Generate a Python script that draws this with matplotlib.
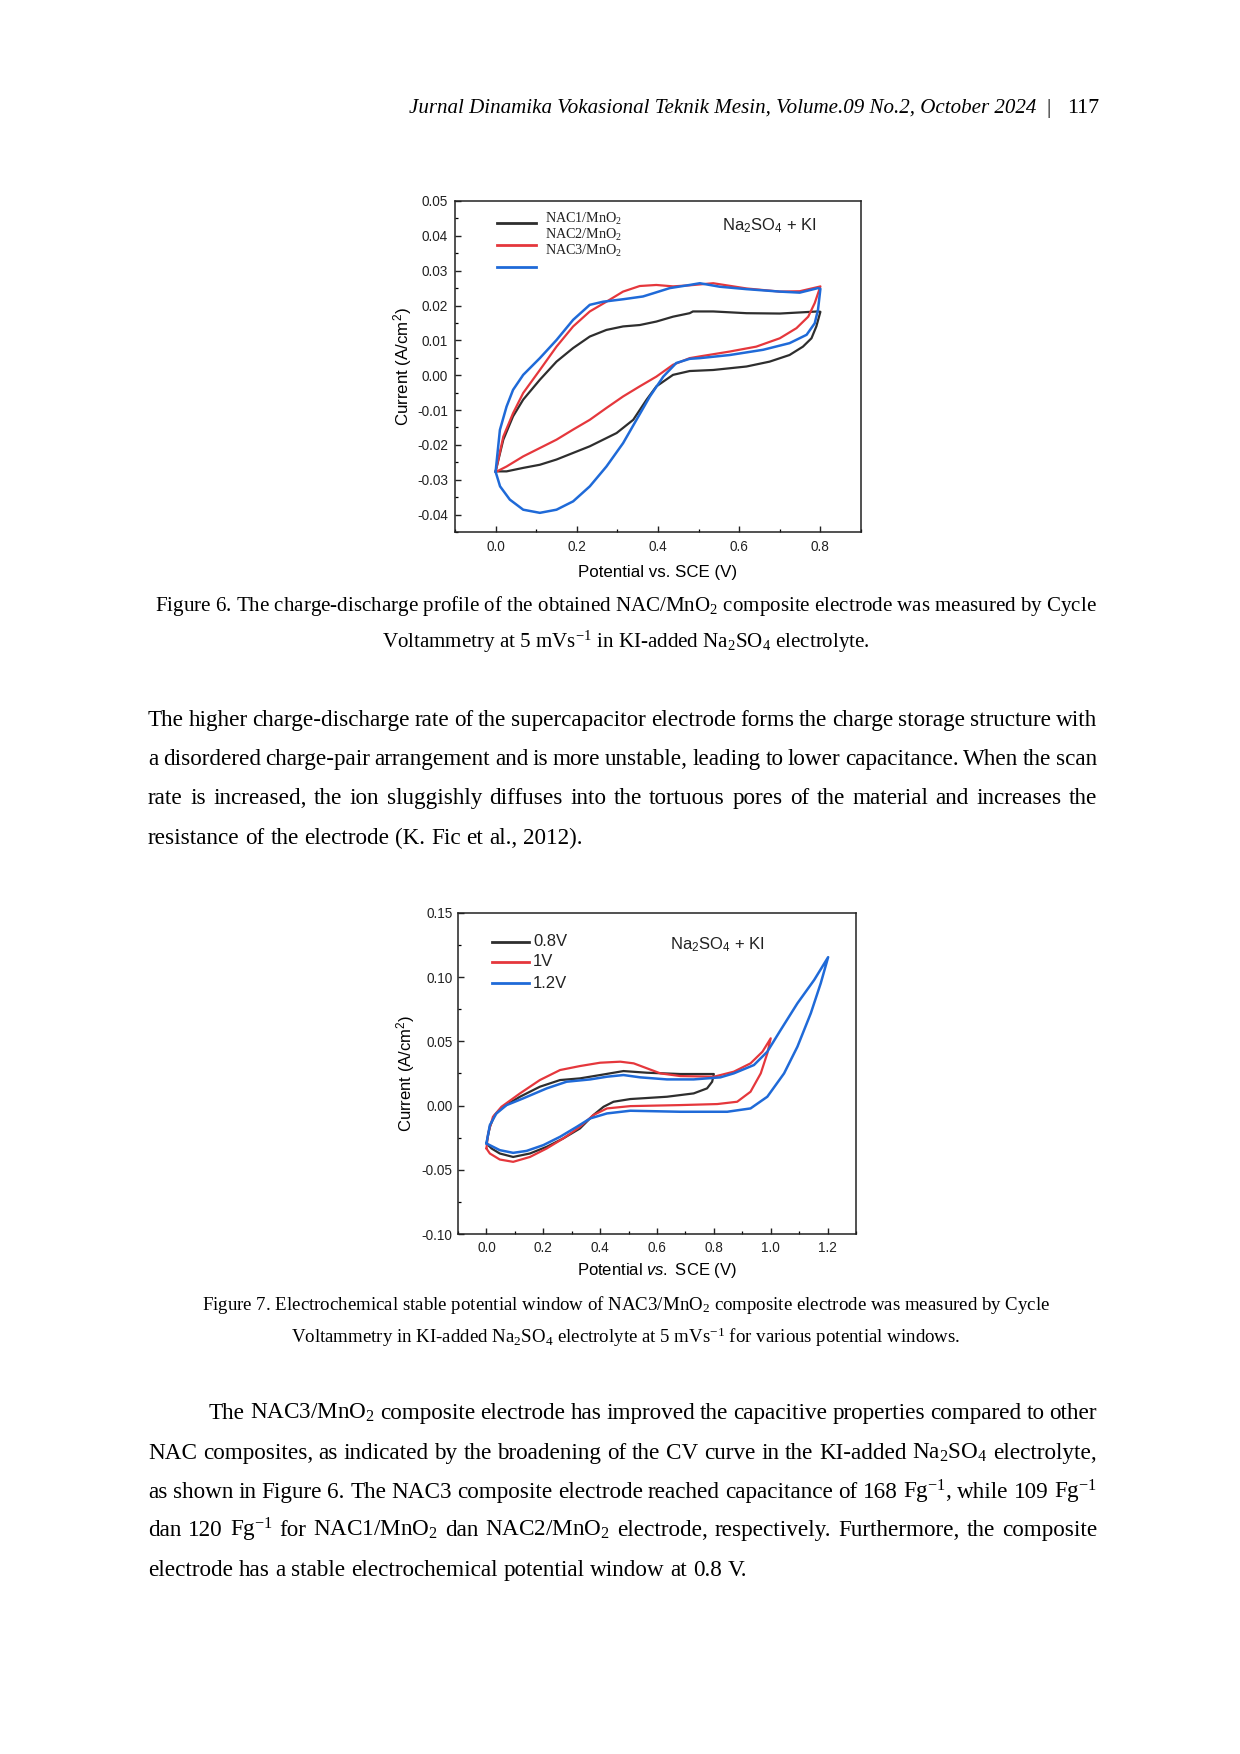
import matplotlib
matplotlib.use('Agg')
import matplotlib.pyplot as plt
from matplotlib.ticker import MultipleLocator, FormatStrFormatter
from matplotlib.lines import Line2D

plt.rcParams['mathtext.fontset'] = 'custom'
plt.rcParams['mathtext.default'] = 'regular'
plt.rcParams['mathtext.rm'] = 'Liberation Sans'
plt.rcParams['mathtext.it'] = 'Liberation Sans:italic'
plt.rcParams['axes.unicode_minus'] = False

# ---------------- data: Figure 6 (CV at 5 mV/s, three composites) ----------------
nac1_v = [0.0, 0.019, 0.043, 0.068, 0.109, 0.150, 0.191, 0.232, 0.273, 0.314, 0.355, 0.396, 0.437, 0.478, 0.486, 0.536, 0.618, 0.70, 0.794, 0.80,
          0.79, 0.778, 0.757, 0.724, 0.675, 0.618, 0.536, 0.478, 0.437, 0.396, 0.372, 0.339, 0.298, 0.232, 0.191, 0.150, 0.109, 0.068, 0.027, 0.0]
nac1_i = [-0.0276, -0.0185, -0.0118, -0.0070, -0.0013, 0.0039, 0.0078, 0.0111, 0.0130, 0.0140, 0.0144, 0.0154, 0.0168, 0.0178, 0.0183, 0.0183, 0.0178, 0.0177, 0.0183, 0.0182,
          0.0140, 0.0106, 0.0082, 0.0058, 0.0039, 0.0025, 0.0015, 0.0012, 0.0001, -0.0032, -0.0070, -0.0128, -0.0166, -0.0204, -0.0223, -0.0242, -0.0257, -0.0266, -0.0276, -0.0276]

nac2_v = [0.0, 0.019, 0.043, 0.068, 0.109, 0.150, 0.191, 0.232, 0.273, 0.314, 0.355, 0.396, 0.437, 0.478, 0.536, 0.618, 0.70, 0.749, 0.797, 0.80,
          0.786, 0.770, 0.741, 0.70, 0.642, 0.577, 0.503, 0.478, 0.437, 0.396, 0.355, 0.314, 0.273, 0.232, 0.191, 0.150, 0.109, 0.068, 0.027, 0.0]
nac2_i = [-0.0278, -0.0176, -0.0109, -0.0051, 0.0015, 0.0082, 0.0140, 0.0183, 0.0211, 0.0240, 0.0256, 0.0259, 0.0255, 0.0258, 0.0264, 0.0249, 0.0240, 0.0241, 0.0254, 0.0255,
          0.0207, 0.0168, 0.0135, 0.0106, 0.0082, 0.0068, 0.0054, 0.0049, 0.0030, -0.0004, -0.0032, -0.0061, -0.0094, -0.0128, -0.0156, -0.0185, -0.0209, -0.0233, -0.0262, -0.0278]

nac3_v = [0.0, 0.0106, 0.027, 0.043, 0.068, 0.109, 0.150, 0.191, 0.232, 0.265, 0.314, 0.363, 0.388, 0.429, 0.478, 0.503, 0.552, 0.618, 0.70, 0.749, 0.794, 0.80,
          0.794, 0.786, 0.766, 0.724, 0.659, 0.577, 0.503, 0.478, 0.445, 0.413, 0.380, 0.347, 0.314, 0.273, 0.232, 0.191, 0.150, 0.109, 0.068, 0.035, 0.011, 0.0]
nac3_i = [-0.0277, -0.0157, -0.0090, -0.0042, 0.0001, 0.0049, 0.0101, 0.0159, 0.0202, 0.0211, 0.0218, 0.0226, 0.0235, 0.0250, 0.0259, 0.0264, 0.0254, 0.0247, 0.0240, 0.0237, 0.0250, 0.0248,
          0.0187, 0.0149, 0.0116, 0.0092, 0.0073, 0.0058, 0.0049, 0.0047, 0.0035, -0.0004, -0.0061, -0.0128, -0.0195, -0.0262, -0.0319, -0.0362, -0.0386, -0.0395, -0.0386, -0.0357, -0.0319, -0.0277]

fig6_labels = ['NAC1/MnO$_2$', 'NAC2/MnO$_2$', 'NAC3/MnO$_2$']

# ---------------- data: Figure 7 (potential windows) ----------------
w08_v = [0.0, 0.012, 0.029, 0.059, 0.118, 0.188, 0.259, 0.329, 0.40, 0.482, 0.565, 0.682, 0.80,
         0.794, 0.776, 0.729, 0.635, 0.506, 0.447, 0.412, 0.376, 0.329, 0.27, 0.212, 0.153, 0.094, 0.047, 0.018, 0.0]
w08_i = [-0.0295, -0.0165, -0.0074, -0.0009, 0.0069, 0.0147, 0.0199, 0.0212, 0.0238, 0.0269, 0.0256, 0.0246, 0.0246,
         0.0186, 0.0134, 0.0095, 0.0069, 0.0051, 0.0030, -0.0009, -0.0074, -0.0178, -0.0256, -0.0321, -0.0373, -0.0400, -0.0373, -0.0334, -0.0295]

w10_v = [0.0, 0.006, 0.023, 0.053, 0.118, 0.188, 0.259, 0.329, 0.40, 0.471, 0.518, 0.565, 0.612, 0.682, 0.80, 0.870, 0.929, 0.971, 1.0,
         0.988, 0.965, 0.929, 0.882, 0.812, 0.682, 0.506, 0.424, 0.376, 0.329, 0.27, 0.212, 0.153, 0.094, 0.047, 0.012, 0.0]
w10_i = [-0.0334, -0.0217, -0.0087, -0.0009, 0.0095, 0.0199, 0.0277, 0.0308, 0.0334, 0.0342, 0.0329, 0.0290, 0.0251, 0.0230, 0.0225, 0.0264, 0.0329, 0.0420, 0.0524,
         0.0407, 0.0251, 0.0108, 0.0030, 0.0012, 0.0004, -0.0004, -0.0022, -0.0074, -0.0165, -0.0256, -0.0334, -0.0400, -0.0438, -0.0420, -0.0373, -0.0334]

w12_v = [0.0, 0.012, 0.035, 0.071, 0.129, 0.212, 0.282, 0.365, 0.424, 0.482, 0.541, 0.635, 0.729, 0.823, 0.870, 0.941, 0.988, 1.035, 1.094, 1.153, 1.202,
         1.176, 1.141, 1.094, 1.047, 0.988, 0.929, 0.847, 0.682, 0.506, 0.424, 0.365, 0.318, 0.259, 0.20, 0.141, 0.094, 0.047, 0.0]
w12_i = [-0.0295, -0.0152, -0.0061, 0.0004, 0.0056, 0.0134, 0.0186, 0.0204, 0.0225, 0.0238, 0.0220, 0.0204, 0.0204, 0.0220, 0.0251, 0.0316, 0.0420, 0.0589, 0.0797, 0.0979, 0.1156,
         0.0953, 0.0719, 0.0459, 0.0251, 0.0069, -0.0022, -0.0048, -0.0048, -0.0040, -0.0061, -0.0100, -0.0165, -0.0243, -0.0308, -0.0353, -0.0368, -0.0347, -0.0295]

fig7_labels = ['0.8V', '1V', '1.2V']

C_BLACK = '#2e2e2e'
C_RED = '#e5373c'
C_BLUE = '#1f6ad8'

# ---------------- figure ----------------
W, H = 1240, 1754
fig = plt.figure(figsize=(W / 100, H / 100), dpi=100)
fig.patch.set_facecolor('white')
R = fig.canvas.get_renderer()


def fx(px):
    return px / W


def fy(py):
    return 1 - py / H


def width_of(t):
    return t.get_window_extent(R).width


def fit(s, target, **kw):
    t = fig.text(0, 0, s, fontsize=10, **kw)
    w = width_of(t)
    t.remove()
    return 10 * target / w


SERIF = 'Liberation Serif'
SANS = 'Liberation Sans'


def space_width(size, family):
    a = fig.text(0, 0, 'x x', fontsize=size, family=family)
    b = fig.text(0, 0, 'xx', fontsize=size, family=family)
    w = width_of(a) - width_of(b)
    a.remove(); b.remove()
    return w


def text_line(line, x0, x1, ybase, size, justify=True, family=SERIF):
    words = line.split(' ')
    ts = [fig.text(0, fy(ybase), w, fontsize=size, family=family, va='baseline', ha='left') for w in words]
    ws = [width_of(t) for t in ts]
    if justify and len(words) > 1:
        gap = (x1 - x0 - sum(ws)) / (len(words) - 1)
    else:
        gap = space_width(size, family)
    x = x0
    for t, w in zip(ts, ws):
        t.set_x(fx(x))
        x += w + gap


# ---------------- header ----------------
hdr = 'Jurnal Dinamika Vokasional Teknik Mesin, Volume.09 No.2, October 2024'
hs = fit(hdr, 629, family=SERIF, style='italic')
fig.text(fx(1036), fy(113), hdr, fontsize=hs, family=SERIF, style='italic', ha='right', va='baseline')
fig.text(fx(1049), fy(113), '|', fontsize=hs, family=SERIF, ha='center', va='baseline')
fig.text(fx(1099), fy(113), '117', fontsize=hs * 1.05, family=SERIF, ha='right', va='baseline')


# ---------------- axes styling ----------------
def style_axes(ax, xlim, ylim, xmaj, xmin, ymaj, ymin, xfmt, yfmt, tsize, xpad, ypad):
    ax.set_xlim(*xlim)
    ax.set_ylim(*ylim)
    ax.xaxis.set_major_locator(MultipleLocator(xmaj))
    ax.xaxis.set_minor_locator(MultipleLocator(xmin))
    ax.yaxis.set_major_locator(MultipleLocator(ymaj))
    ax.yaxis.set_minor_locator(MultipleLocator(ymin))
    ax.xaxis.set_major_formatter(FormatStrFormatter(xfmt))
    ax.yaxis.set_major_formatter(FormatStrFormatter(yfmt))
    ax.tick_params(which='major', direction='in', length=4, width=1.0, labelsize=tsize, colors='#222222')
    ax.tick_params(which='minor', direction='in', length=2, width=0.9)
    ax.tick_params(axis='x', which='major', pad=xpad)
    ax.tick_params(axis='y', which='major', pad=ypad)
    ax.tick_params(top=False, right=False, which='both')
    for lab in ax.get_xticklabels() + ax.get_yticklabels():
        lab.set_family(SANS)
    for s in ax.spines.values():
        s.set_linewidth(1.1)
        s.set_color('#222222')


LINE_KW = dict(solid_joinstyle='round', solid_capstyle='round')

# ---------------- Figure 6 ----------------
ax6 = fig.add_axes([fx(455), fy(532), (861 - 455) / W, (532 - 201) / H])
ax6.plot(nac1_v, nac1_i, color=C_BLACK, lw=1.6, **LINE_KW)
ax6.plot(nac2_v, nac2_i, color=C_RED, lw=1.6, **LINE_KW)
ax6.plot(nac3_v, nac3_i, color=C_BLUE, lw=1.8, **LINE_KW)
style_axes(ax6, (-0.1, 0.9), (-0.045, 0.05), 0.2, 0.1, 0.01, 0.005, '%.1f', '%.2f', 9.8, 6, 5)
xt = [v for v in ax6.get_xticks() if -0.01 < v < 0.81]
ax6.set_xticks(xt)
ax6.set_xlabel('Potential vs. SCE (V)', family=SANS, fontsize=12.2, va='center')
ax6.xaxis.set_label_coords(0.5, -40 / 331)
ax6.set_ylabel('Current (A/cm$^2$)', family=SANS, fontsize=12.2, va='center')
ax6.yaxis.set_label_coords(-52 / 406, 0.5)

for py_line, py_text, col, lab in zip([223, 245, 267], [219, 235, 251], [C_BLACK, C_RED, C_BLUE], fig6_labels):
    fig.add_artist(Line2D([fx(497), fx(536)], [fy(py_line), fy(py_line)], color=col, lw=2.0))
    fig.text(fx(545), fy(py_text), lab, family=SERIF, fontsize=10.2, va='center', ha='left', color='#222222')
fig.text(fx(769), fy(226), 'Na$_2$SO$_4$ + KI', family=SANS, fontsize=12, ha='center', va='center', color='#222222')

# ---------------- Figure 7 ----------------
ax7 = fig.add_axes([fx(458), fy(1234), (856 - 458) / W, (1234 - 913) / H])
ax7.plot(w08_v, w08_i, color=C_BLACK, lw=1.6, **LINE_KW)
ax7.plot(w10_v, w10_i, color=C_RED, lw=1.6, **LINE_KW)
ax7.plot(w12_v, w12_i, color=C_BLUE, lw=1.8, **LINE_KW)
style_axes(ax7, (-0.1, 1.3), (-0.10, 0.15), 0.2, 0.1, 0.05, 0.025, '%.1f', '%.2f', 9.8, 5, 4)
xt = [v for v in ax7.get_xticks() if -0.01 < v < 1.21]
ax7.set_xticks(xt)
ax7.set_xlabel(r'Potential $\mathit{vs.}$ SCE (V)', family=SANS, fontsize=12.0, va='center')
ax7.xaxis.set_label_coords(0.5, -37 / 321)
ax7.set_ylabel('Current (A/cm$^2$)', family=SANS, fontsize=12.0, va='center')
ax7.yaxis.set_label_coords(-52 / 398, 0.5)

for py, col, lab in zip([942, 962, 983], [C_BLACK, C_RED, C_BLUE], fig7_labels):
    fig.add_artist(Line2D([fx(492), fx(529)], [fy(py), fy(py)], color=col, lw=2.0))
    fig.text(fx(533), fy(py), lab, family=SANS, fontsize=12, va='center', ha='left', color='#222222')
fig.text(fx(717), fy(945), 'Na$_2$SO$_4$ + KI', family=SANS, fontsize=12, ha='center', va='center', color='#222222')

# ---------------- captions ----------------
cap6 = ['Figure 6. The charge-discharge profile of the obtained NAC/MnO$_2$ composite electrode was measured by Cycle',
        'Voltammetry at 5 mVs$^{-1}$ in KI-added Na$_2$SO$_4$ electrolyte.']
cs6 = fit(cap6[0], 940, family=SERIF)
for s, yc in zip(cap6, [605, 642]):
    fig.text(fx(626), fy(yc + 6), s, fontsize=cs6, family=SERIF, ha='center', va='baseline')

cap7 = ['Figure 7. Electrochemical stable potential window of NAC3/MnO$_2$ composite electrode was measured by Cycle',
        'Voltammetry in KI-added Na$_2$SO$_4$ electrolyte at 5 mVs$^{-1}$ for various potential windows.']
cs7 = fit(cap7[0], 848, family=SERIF)
for s, yc in zip(cap7, [1305, 1338]):
    fig.text(fx(626), fy(yc + 5), s, fontsize=cs7, family=SERIF, ha='center', va='baseline')

# ---------------- body paragraphs ----------------
para1 = ['The higher charge-discharge rate of the supercapacitor electrode forms the charge storage structure with',
         'a disordered charge-pair arrangement and is more unstable, leading to lower capacitance. When the scan',
         'rate is increased, the ion sluggishly diffuses into the tortuous pores of the material and increases the',
         'resistance of the electrode (K. Fic et al., 2012).']
para2 = ['The NAC3/MnO$_2$ composite electrode has improved the capacitive properties compared to other',
         'NAC composites, as indicated by the broadening of the CV curve in the KI-added Na$_2$SO$_4$ electrolyte,',
         'as shown in Figure 6. The NAC3 composite electrode reached capacitance of 168 Fg$^{-1}$, while 109 Fg$^{-1}$',
         'dan 120 Fg$^{-1}$ for NAC1/MnO$_2$ dan NAC2/MnO$_2$ electrode, respectively. Furthermore, the composite',
         'electrode has a stable electrochemical potential window at 0.8 V.']

bs = 0.5 * (fit(para1[-1], 434, family=SERIF) + fit(para2[-1], 598, family=SERIF))

XL, XR = 148, 1097
for i, (s, yc) in enumerate(zip(para1, [720, 759, 798, 838])):
    text_line(s, XL, XR, yc + 6, bs, justify=(i < len(para1) - 1))
for i, (s, yc) in enumerate(zip(para2, [1413, 1453, 1492, 1530, 1570])):
    x0 = 209 if i == 0 else XL
    text_line(s, x0, XR, yc + 6, bs, justify=(i < len(para2) - 1))

fig.savefig('out.png', dpi=100, facecolor='white')
